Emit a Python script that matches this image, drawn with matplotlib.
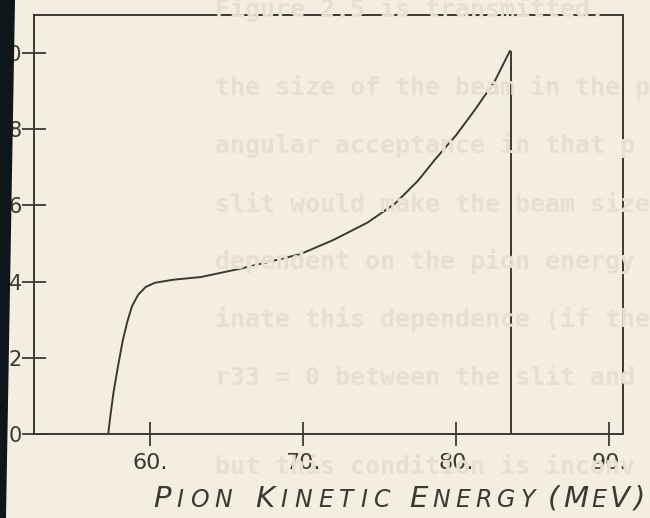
import matplotlib
matplotlib.use("Agg")
import matplotlib.pyplot as plt
from matplotlib.patches import Polygon

# curve (pion kinetic energy in MeV vs. value)
energy = [57.25, 57.4, 57.6, 57.9, 58.2, 58.5, 58.8, 59.2, 59.7, 60.3,
          61.5, 63.3, 66.0, 69.8, 72.0, 74.2, 76.0, 77.5, 78.6, 80.0,
          81.2, 82.5, 83.5]
value = [0.0, 0.5, 1.1, 1.8, 2.45, 2.95, 3.35, 3.65, 3.86, 3.97,
         4.05, 4.12, 4.35, 4.72, 5.1, 5.55, 6.05, 6.65, 7.2, 7.85,
         8.5, 9.25, 10.05]
cutoff = 83.55

xticks = [60, 70, 80, 90]
xtick_labels = ["60.", "70.", "80.", "90."]
yticks = [0, 2, 4, 6, 8, 10]
ytick_labels = ["0", "2", "4", "6", "8", "10"]

# faint typewritten text showing through the page
page_lines = [
    "Figure 2.5 is transmitted.",
    "the size of the beam in the p",
    "angular acceptance in that p",
    "slit would make the beam size",
    "dependent on the pion energy",
    "inate this dependence (if the",
    "r33 = 0 between the slit and",
    "but this condition is inconv",
]
page_y = [10, 88, 145, 205, 262, 320, 378, 467]

# axis title, hand lettered in small caps (capitals marked by case)
title_words = ["Pion", "Kinetic", "Energy", "(MeV)"]
title_word_span = [(153, 232), (255, 390), (409, 535), (548, 645)]

paper = "#f4eee2"
ink = "#3b3a30"

fig = plt.figure(figsize=(6.5, 5.18), dpi=100)
fig.patch.set_facecolor(paper)
W, H = 650, 518

for txt, yp in zip(page_lines, page_y):
    fig.text(215 / W, 1 - yp / H, txt, family="DejaVu Sans Mono",
             fontweight="bold", fontsize=18, color="#e7e0d1",
             va="center", ha="left", zorder=0)

ax = fig.add_axes([34 / W, (H - 434) / H, (623 - 34) / W, (434 - 15) / H])
ax.patch.set_alpha(0)

ax.plot(energy, value, color=ink, lw=1.4)
ax.vlines(cutoff, 0, value[-1], color=ink, lw=1.4)

ax.set_xlim(52.4, 90.9)
ax.set_ylim(0, 11.0)

for s in ax.spines.values():
    s.set_color(ink)
    s.set_linewidth(1.4)

ax.set_xticks(xticks)
ax.set_xticklabels(xtick_labels, fontsize=16, color=ink)
ax.set_yticks(yticks)
ax.set_yticklabels(ytick_labels, fontsize=15, color=ink)
ax.tick_params(axis="x", direction="inout", length=17, width=1.3, color=ink, pad=5)
ax.tick_params(axis="y", direction="inout", length=17, width=1.3, color=ink, pad=0)

# letter the title one glyph at a time, spread over each word's span
renderer = fig.canvas.get_renderer()
base = 11 / H
for word, (x0, x1) in zip(title_words, title_word_span):
    glyphs = []
    for ch in word:
        small = ch.islower() or (word == "(MeV)" and ch == "e")
        t = fig.text(0, base, ch.upper(), fontsize=17 if small else 21,
                     style="italic", color=ink, va="baseline", ha="left")
        glyphs.append((t, t.get_window_extent(renderer).width))
    natural = sum(w for _, w in glyphs)
    gap = (x1 - x0 - natural) / max(len(glyphs) - 1, 1)
    x = x0
    for t, w in glyphs:
        t.set_x(x / W)
        x += w + gap

# dark edge of the scanned page
strip = Polygon([(0, 1), (15 / W, 1), (6 / W, 0), (0, 0)], closed=True,
                transform=fig.transFigure, facecolor="#0d161a", edgecolor="none",
                zorder=10)
fig.patches.append(strip)

fig.savefig("out.png", dpi=100, facecolor=paper)
